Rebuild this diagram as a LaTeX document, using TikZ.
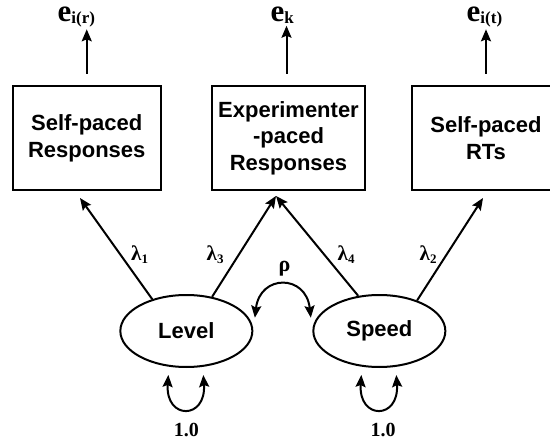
\documentclass[tikz,border=0pt]{standalone}
\usepackage{fontspec}
\setmainfont{Liberation Serif}
\setsansfont{Liberation Sans}
\usetikzlibrary{arrows.meta,shapes.geometric}
\tikzset{
  lw/.style={line width=2pt},
  tipstyle/.tip={Stealth[length=12pt,width=10pt,inset=2pt]},
  arr/.style={lw,-tipstyle},
  dblarr/.style={lw,tipstyle-tipstyle},
  boxnode/.style={draw,lw,rectangle,minimum width=148.5pt,minimum height=104.5pt,
    align=center,inner sep=0pt,font=\sffamily\bfseries\fontsize{22}{26.5}\selectfont},
  latent/.style={draw,lw,ellipse,minimum width=132pt,minimum height=72pt,inner sep=0pt,
    font=\sffamily\bfseries\fontsize{22}{26}\selectfont},
  errlab/.style={inner sep=0pt,anchor=base west,font=\bfseries},
  lamlab/.style={inner sep=0pt,anchor=base west,font=\bfseries\fontsize{21}{21}\selectfont},
  numlab/.style={inner sep=0pt,font=\bfseries\fontsize{20}{20}\selectfont}
}
\newcommand{\errtxt}[1]{{\fontsize{31}{31}\selectfont e}{\fontsize{17}{17}\selectfont\raisebox{-1.5pt}{#1}}}
\newcommand{\lamtxt}[1]{λ{\fontsize{13}{13}\selectfont\raisebox{-2pt}{#1}}}
\begin{document}
\begin{tikzpicture}[x=1pt,y=-1pt]
\useasboundingbox (0,0) rectangle (550,444);
\clip (0,0) rectangle (550,444);
% boxes
\node[boxnode] (lbox) at (86.75,138.25) {Self-paced\\Responses};
\node[boxnode,minimum width=153pt] (mbox) at (288.5,138.25) {Experimenter\\-paced\\Responses};
\node[boxnode] (rbox) at (486,138.25) {Self-paced\\RTs};
% error labels
\node[errlab] (e1) at (57.5,22) {\errtxt{i(r)}};
\node[errlab] (e2) at (270.5,22) {\errtxt{k}};
\node[errlab] (e3) at (466.5,22) {\errtxt{i(t)}};
\draw[arr,shorten >=2pt] ([yshift=11pt]lbox.north) -- (lbox.north |- e1.south);
\draw[arr,shorten >=2pt] ([xshift=-2pt,yshift=11pt]mbox.north) -- ([xshift=-2pt]mbox.north |- e2.south);
\draw[arr,shorten >=2pt] ([yshift=11pt]rbox.north) -- (rbox.north |- e3.south);
% latent variables
\node[latent] (level) at (186.35,331) {Level};
\node[latent] (speed) at (379.35,331) {Speed};
% loadings
\draw[arr] (level.137) -- ([xshift=-6.75pt,yshift=-6.5pt]lbox.south);
\draw[arr] (level.53) -- ([xshift=-12.5pt,yshift=-4.5pt]mbox.south);
\draw[arr] (speed.121) -- ([xshift=-12.5pt,yshift=-4.5pt]mbox.south);
\draw[arr] (speed.39) -- ([xshift=-3pt,yshift=-6.5pt]rbox.south);
\node[lamlab] (l1) at (131,261) {\lamtxt{1}};
\node[lamlab] (l3) at (206.5,261) {\lamtxt{3}};
\node[lamlab] (l4) at (337.5,261) {\lamtxt{4}};
\node[lamlab] (l2) at (419.5,261) {\lamtxt{2}};
% correlation
\draw[dblarr] ([xshift=6pt]level.12) .. controls (260,274) and (306,274) .. ([xshift=-6pt]speed.168);
\node[numlab,font=\bfseries\fontsize{22}{22}\selectfont] (rho) at (284.5,269) {ρ};
% variances
\draw[dblarr] ([xshift=-18pt,yshift=-7pt]level.south) .. controls +(-3,45) and +(3,45) .. ([xshift=17pt,yshift=-7pt]level.south);
\draw[dblarr] ([xshift=-18pt,yshift=-7pt]speed.south) .. controls +(-3,45) and +(3,45) .. ([xshift=17pt,yshift=-7pt]speed.south);
\node[numlab] (v1) at (186.35,429.5) {1.0};
\node[numlab] (v2) at (383,429.5) {1.0};
\end{tikzpicture}
\end{document}
